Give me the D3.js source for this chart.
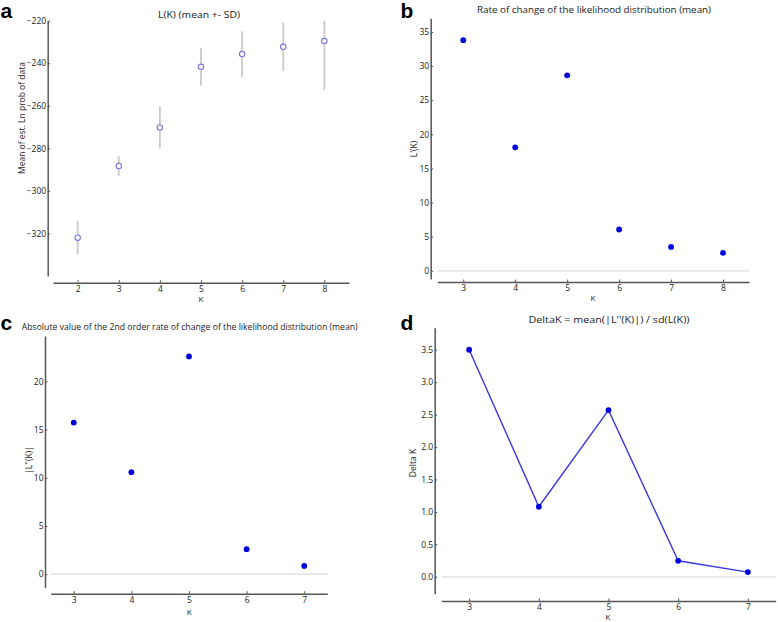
<!DOCTYPE html>
<html><head><meta charset="utf-8">
<script src="https://cdn.jsdelivr.net/npm/d3@7"></script>
<style>
html,body{margin:0;padding:0;background:#fff;}
svg text{font-family:"Open Sans","DejaVu Sans",sans-serif;fill:#222;}
.axis path{stroke:#555;stroke-width:1.5;}
.axis line{stroke:#555;stroke-width:1;}
.axis text{font-size:8.5px;fill:#222;}
</style></head>
<body>
<svg id="c" width="778" height="622"></svg>
<script>
// ---- Data ----
const kA = [2, 3, 4, 5, 6, 7, 8];
const meanA = [-322.0, -288.3, -270.2, -241.7, -235.7, -232.3, -229.6];
const sdA = [7.9, 4.6, 9.9, 8.9, 10.7, 11.4, 23.0];
const yTicksA = [-320, -300, -280, -260, -240, -220];

const kB = [3, 4, 5, 6, 7, 8];
const valB = [33.8, 18.1, 28.65, 6.05, 3.5, 2.62];
const yTicksB = [0, 5, 10, 15, 20, 25, 30, 35];

const kC = [3, 4, 5, 6, 7];
const valC = [15.72, 10.58, 22.58, 2.59, 0.86];
const yTicksC = [0, 5, 10, 15, 20];

const kD = [3, 4, 5, 6, 7];
const valD = [3.50, 1.08, 2.57, 0.247, 0.073];
const yTicksD = [0, 0.5, 1.0, 1.5, 2.0, 2.5, 3.0, 3.5];

const titles = ["L(K) (mean +- SD)",
  "Rate of change of the likelihood distribution (mean)",
  "Absolute value of the 2nd order rate of change of the likelihood distribution (mean)",
  "DeltaK = mean(|L''(K)|) / sd(L(K))"];
const yLabels = ["Mean of est. Ln prob of data", "L'(K)", "|L''(K)|", "Delta K"];
const panelLetters = ["a", "b", "c", "d"];

const svg = d3.select("#c");

function panel(cfg) {
  const x = d3.scaleLinear().domain(cfg.xd).range(cfg.xr);
  const y = d3.scaleLinear().domain(cfg.yd).range(cfg.yr);
  const g = svg.append("g");
  // y axis (offset spine)
  g.append("g").attr("class", "axis")
    .attr("transform", `translate(${cfg.yAxisX},0)`)
    .call(d3.axisLeft(y).tickValues(cfg.yTicks).tickSize(-2.5).tickSizeOuter(0).tickPadding(1.5)
      .tickFormat(cfg.yFmt));
  g.append("g").attr("class", "axis")
    .attr("transform", `translate(0,${cfg.xAxisY})`)
    .call(d3.axisBottom(x).tickValues(cfg.xTicks).tickSize(-2.5).tickSizeOuter(0).tickPadding(3)
      .tickFormat(d3.format("d")));
  // zero line
  if (cfg.zero) {
    g.append("line").attr("x1", cfg.xr[0]).attr("x2", cfg.xr[1])
      .attr("y1", y(0)).attr("y2", y(0)).attr("stroke", "#dcdcdc").attr("stroke-width", 1.2);
  }
  const clipId = "clip" + cfg.id;
  svg.append("clipPath").attr("id", clipId).append("rect")
    .attr("x", cfg.xr[0]).attr("y", cfg.yr[1]).attr("width", cfg.xr[1] - cfg.xr[0]).attr("height", cfg.yr[0] - cfg.yr[1]);
  const pg = g.append("g").attr("clip-path", `url(#${clipId})`);
  cfg.draw(pg, x, y);
  // title
  g.append("text").attr("x", cfg.titleX).attr("y", cfg.titleY)
    .attr("text-anchor", cfg.titleAnchor || "middle").style("font-size", "9.5px")
    .attr("textLength", cfg.titleLen).attr("lengthAdjust", "spacingAndGlyphs").text(cfg.title);
  // y label
  g.append("text").attr("transform", `translate(${cfg.ylX},${cfg.ylY}) rotate(-90)`)
    .attr("text-anchor", "middle").style("font-size", "8.5px").text(cfg.ylabel);
  // x label
  g.append("text").attr("x", cfg.xlX).attr("y", cfg.xlY).attr("text-anchor", "middle")
    .style("font-size", "8px").text("K");
  // panel letter
  g.append("text").attr("x", cfg.letterX).attr("y", cfg.letterY)
    .style("font-family", "'Liberation Sans',Arial,sans-serif").style("font-weight", "bold")
    .style("font-size", "21px").style("fill", "#000").text(cfg.letter);
}

const minusFmt = d => d3.format("d")(d).replace("-", "\u2212");

// Panel a
panel({
  id: "a", xd: [1.4, 8.6], xr: [53, 349], yd: [-340, -220], yr: [276, 20.7],
  yAxisX: 47.7, xAxisY: 282.7, yTicks: yTicksA, xTicks: kA, yFmt: minusFmt,
  title: titles[0], titleX: 199, titleY: 17.5, titleLen: 82,
  ylabel: yLabels[0], ylX: 24.5, ylY: 118, xlX: 201, xlY: 302,
  letter: panelLetters[0], letterX: 0.5, letterY: 18,
  draw: (pg, x, y) => {
    pg.selectAll("line.err").data(kA).join("line").attr("class", "err")
      .attr("x1", (d) => x(d)).attr("x2", (d) => x(d))
      .attr("y1", (d, i) => y(meanA[i] - sdA[i])).attr("y2", (d, i) => y(meanA[i] + sdA[i]))
      .attr("stroke", "#cacaca").attr("stroke-width", 1.8);
    pg.selectAll("circle").data(kA).join("circle")
      .attr("cx", d => x(d)).attr("cy", (d, i) => y(meanA[i])).attr("r", 2.7)
      .attr("fill", "#fff").attr("stroke", "#7777dd").attr("stroke-width", 1.1);
  }
});

// Panel b
panel({
  id: "b", xd: [2.5, 8.5], xr: [437.3, 749], yd: [-1.2, 37], yr: [279, 18.3],
  yAxisX: 430.7, xAxisY: 282, yTicks: yTicksB, xTicks: kB, yFmt: d3.format("d"), zero: true,
  title: titles[1], titleX: 594, titleY: 12.5, titleLen: 234,
  ylabel: yLabels[1], ylX: 416.5, ylY: 149, xlX: 593, xlY: 300.5,
  letter: panelLetters[1], letterX: 400.5, letterY: 17.5,
  draw: (pg, x, y) => {
    pg.selectAll("circle").data(kB).join("circle")
      .attr("cx", d => x(d)).attr("cy", (d, i) => y(valB[i])).attr("r", 2.9).attr("fill", "#0000dd");
  }
});

// Panel c
panel({
  id: "c", xd: [2.6, 7.4], xr: [50.7, 327.3], yd: [-1.4, 24.7], yr: [587.7, 336],
  yAxisX: 45, xAxisY: 593.7, yTicks: yTicksC, xTicks: kC, yFmt: d3.format("d"), zero: true,
  title: titles[2], titleX: 21.7, titleY: 330, titleLen: 336, titleAnchor: "start",
  ylabel: yLabels[2], ylX: 31.5, ylY: 460, xlX: 189.3, xlY: 615,
  letter: panelLetters[2], letterX: 0.5, letterY: 330,
  draw: (pg, x, y) => {
    pg.selectAll("circle").data(kC).join("circle")
      .attr("cx", d => x(d)).attr("cy", (d, i) => y(valC[i])).attr("r", 2.9).attr("fill", "#0000dd");
  }
});

// Panel d
panel({
  id: "d", xd: [2.6, 7.4], xr: [441.3, 775.7], yd: [-0.26, 3.84], yr: [593.7, 327.7],
  yAxisX: 434.7, xAxisY: 601, yTicks: yTicksD, xTicks: kD, yFmt: d3.format(".1f"), zero: true,
  title: titles[3], titleX: 609, titleY: 323, titleLen: 161,
  ylabel: yLabels[3], ylX: 415.5, ylY: 463, xlX: 608, xlY: 620,
  letter: panelLetters[3], letterX: 400.5, letterY: 330,
  draw: (pg, x, y) => {
    const line = d3.line().x((d) => x(d)).y((d, i) => y(valD[i]));
    pg.append("path").datum(kD).attr("d", line).attr("fill", "none")
      .attr("stroke", "#3a3ade").attr("stroke-width", 1.4);
    pg.selectAll("circle").data(kD).join("circle")
      .attr("cx", d => x(d)).attr("cy", (d, i) => y(valD[i])).attr("r", 2.9).attr("fill", "#0000dd");
  }
});
</script>
</body></html>
